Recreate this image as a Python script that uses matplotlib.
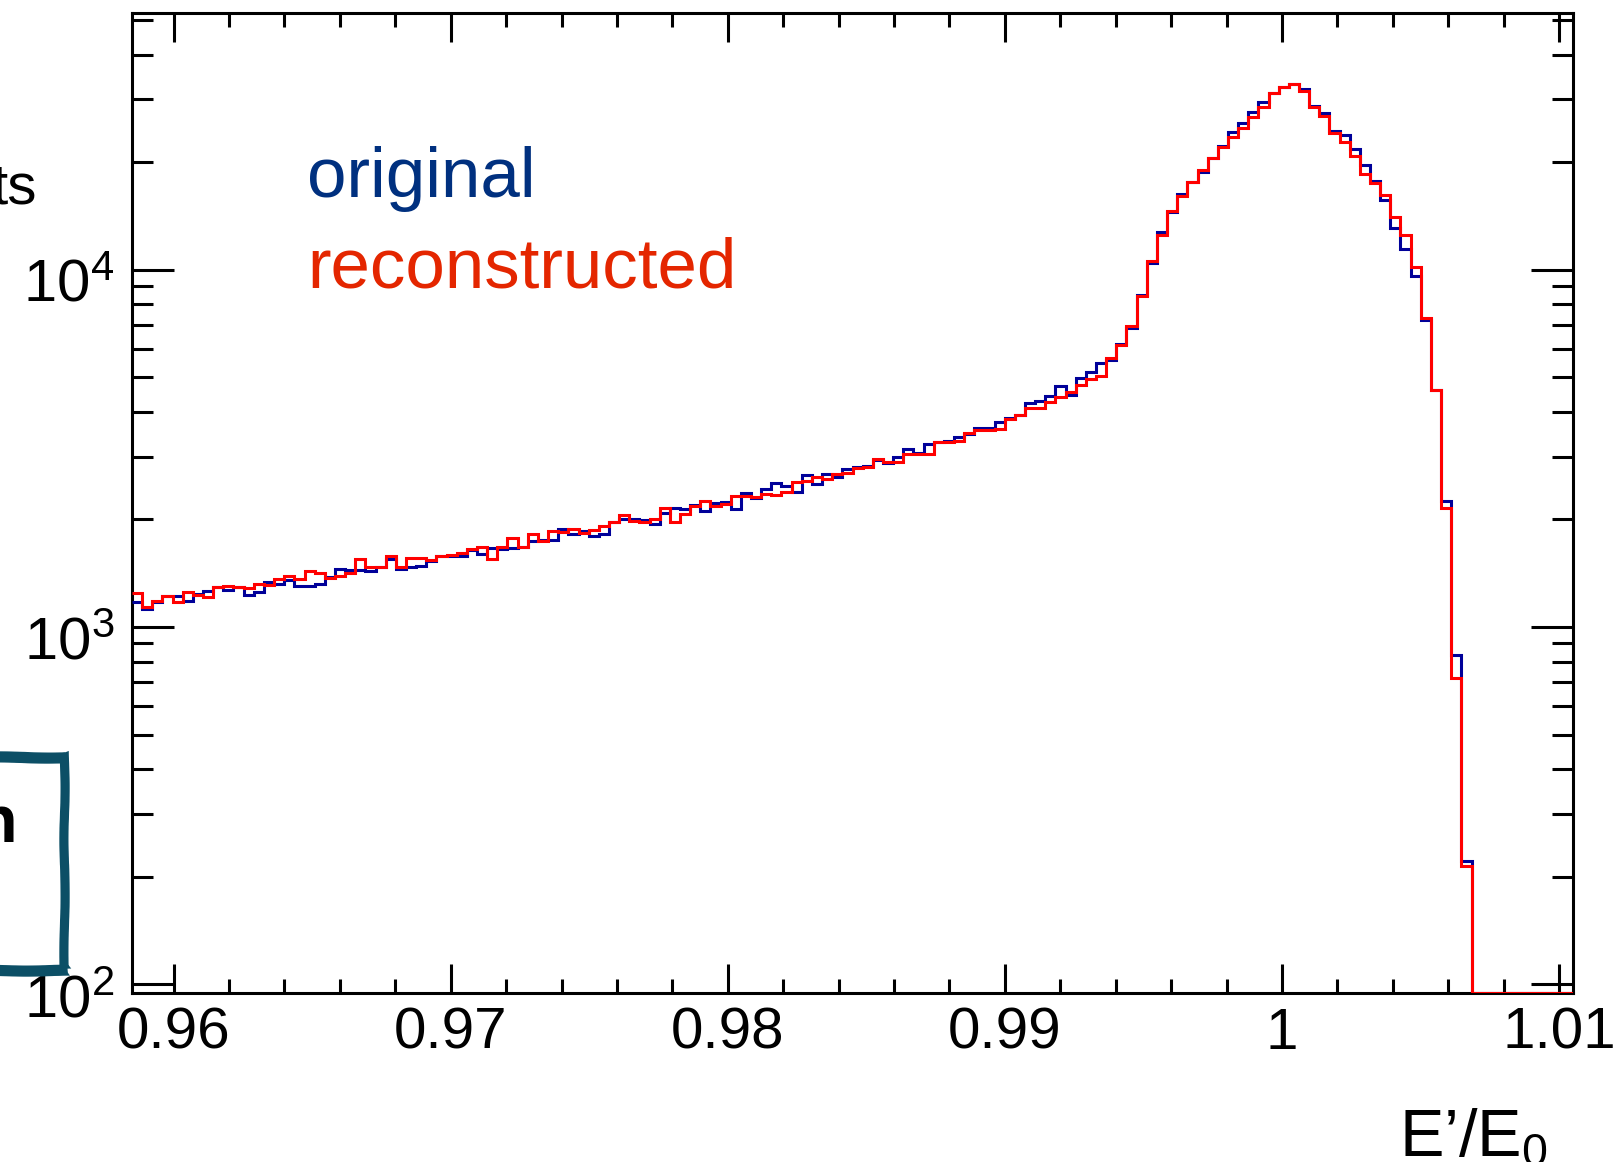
import numpy as np
import matplotlib
matplotlib.use("Agg")
import matplotlib.pyplot as plt
from matplotlib.ticker import MultipleLocator, LogLocator, FuncFormatter, NullFormatter
from matplotlib.patches import Rectangle
from matplotlib.transforms import ScaledTranslation

plt.rcParams["font.family"] = ["Liberation Sans", "DejaVu Sans"]
plt.rcParams["mathtext.fontset"] = "custom"
plt.rcParams["mathtext.rm"] = "Liberation Sans"
plt.rcParams["mathtext.it"] = "Liberation Sans:italic"
plt.rcParams["mathtext.bf"] = "Liberation Sans:bold"

# ── Histogram setup ───────────────────────────────────────────────────────────
X_LO, X_HI = 0.9585, 1.0105
N_BINS     = 142
Y_LO, Y_HI = 94.6, 52300

# bin contents, E'/E0 from X_LO to X_HI
ORIGINAL = [
    1177, 1123, 1172, 1218, 1218, 1185, 1237, 1264, 1291, 1272,
    1291, 1228, 1256, 1333, 1324, 1353, 1305, 1305, 1324, 1385,
    1458, 1446, 1446, 1431, 1471, 1548, 1452, 1468, 1486, 1526,
    1576, 1582, 1576, 1644, 1606, 1662, 1652, 1669, 1677, 1743,
    1754, 1754, 1887, 1819, 1858, 1799, 1819, 1969, 2012, 2003,
    1994, 1948, 2091, 2159, 2136, 2192, 2113, 2230, 2244, 2136,
    2378, 2293, 2429, 2536, 2482, 2388, 2664, 2508, 2687, 2630,
    2775, 2811, 2823, 2934, 2884, 2998, 3142, 3075, 3245, 3294,
    3315, 3402, 3460, 3612, 3612, 3746, 3853, 3920, 4243, 4288,
    4428, 4742, 4457, 4982, 5178, 5487, 5606, 6213, 6872, 8516,
    10438, 12739, 14553, 16300, 17574, 18779, 20507, 22205, 24246, 25795,
    27690, 29398, 31286, 32378, 33078, 31963, 28774, 27390, 24506, 23780,
    21730, 19605, 17760, 15683, 13045, 11420, 9580, 7219, 4621, 2250,
    836, 221, 0, 0, 0, 0, 0, 0, 0, 0,
    0, 0,
]
RECONSTRUCTED = [
    1245, 1135, 1180, 1223, 1177, 1250, 1228, 1215, 1291, 1305,
    1291, 1285, 1319, 1313, 1362, 1391, 1362, 1431, 1413, 1371,
    1391, 1421, 1555, 1477, 1477, 1576, 1474, 1565, 1565, 1542,
    1576, 1589, 1609, 1652, 1680, 1555, 1680, 1773, 1677, 1819,
    1739, 1854, 1850, 1878, 1839, 1866, 1919, 1969, 2055, 1982,
    1974, 2012, 2149, 1969, 2069, 2182, 2254, 2182, 2206, 2328,
    2328, 2313, 2363, 2348, 2388, 2553, 2564, 2630, 2591, 2687,
    2693, 2781, 2805, 2960, 2896, 2903, 3056, 3056, 3056, 3294,
    3300, 3315, 3483, 3551, 3560, 3573, 3827, 3920, 4109, 4090,
    4260, 4399, 4543, 4773, 4950, 5056, 5667, 6173, 6945, 8424,
    10596, 12469, 14616, 16091, 17647, 19023, 20507, 22107, 23480, 24983,
    26694, 28591, 31286, 32378, 33078, 31623, 28591, 26930, 24086, 22829,
    20816, 18540, 17460, 16162, 14003, 12549, 10171, 7328, 4621, 2160,
    720, 214, 0, 0, 0, 0, 0, 0, 0, 0,
    0, 0,
]

W, H = 1618, 1162   # canvas in pixels (dpi 100)


def fx(px):
    return px / W


def fy(py):
    return 1 - py / H


def plot_hist():
    edges = np.linspace(X_LO, X_HI, N_BINS + 1)

    fig = plt.figure(figsize=(W / 100, H / 100), dpi=100)
    ax = fig.add_axes([fx(132), fy(993), fx(1573) - fx(132), fy(13) - fy(993)])

    # empty bins sit on the bottom of the frame, as in ROOT
    for vals, col in ((ORIGINAL, "#000099"), (RECONSTRUCTED, "#ff0000")):
        v = np.asarray(vals, dtype=float)
        v = np.where(v > 0, v, Y_LO)
        ax.stairs(v, edges, color=col, lw=2.2, baseline=None, zorder=3)

    ax.set_yscale("log")
    ax.set_xlim(X_LO, X_HI)
    ax.set_ylim(Y_LO, Y_HI)

    ax.xaxis.set_major_locator(MultipleLocator(0.01))
    ax.xaxis.set_minor_locator(MultipleLocator(0.002))
    ax.xaxis.set_major_formatter(FuncFormatter(lambda v, p: f"{v:g}"))
    ax.yaxis.set_major_locator(LogLocator(base=10, numticks=10))
    ax.yaxis.set_minor_locator(LogLocator(base=10, subs=np.arange(2, 10), numticks=30))
    ax.yaxis.set_minor_formatter(NullFormatter())
    ax.yaxis.set_major_formatter(FuncFormatter(
        lambda v, p: r"$\mathregular{10^{%d}}$" % int(round(np.log10(v)))))

    ax.tick_params(axis="x", which="major", direction="in", top=True,
                   length=21, width=2.2, labelsize=42, pad=10)
    ax.tick_params(axis="x", which="minor", direction="in", top=True,
                   length=10, width=2.2)
    ax.tick_params(axis="y", which="major", direction="in", right=True,
                   length=30, width=2.2, labelsize=43, pad=13)
    ax.tick_params(axis="y", which="minor", direction="in", right=True,
                   length=15, width=2.2)
    for s in ax.spines.values():
        s.set_linewidth(2.2)

    # y labels sit a little below their ticks
    shift = ScaledTranslation(0, -8 / 72, fig.dpi_scale_trans)
    for t in ax.yaxis.get_major_ticks():
        t.label1.set_transform(t.label1.get_transform() + shift)

    # legend text
    fig.text(fx(307), fy(197), "original", color="#00307f",
             fontsize=51, va="baseline")
    fig.text(fx(307), fy(288), "reconstructed", color="#e42600",
             fontsize=51, va="baseline")

    fig.text(fx(1548), fy(1156), "E\u2019/E$_{0}$", ha="right",
             va="baseline", fontsize=48)

    # bits of the slide around the plot
    fig.text(fx(37), fy(204), "ts", ha="right", va="baseline", fontsize=42)
    fig.text(fx(17), fy(842), "n", ha="right", va="baseline",
             fontsize=48, fontweight="bold")
    for dx, dy in ((0, 0), (3, -3), (-2, 3), (2, 4), (-1, -2)):
        box = Rectangle((fx(-60), fy(970 + dy)), fx(64 + dx) - fx(-60),
                        fy(757 + dy) - fy(970 + dy), transform=fig.transFigure,
                        fill=False, ec="#0c4f66", lw=3.0)
        box.set_sketch_params(scale=0.6, length=120, randomness=2)
        fig.add_artist(box)

    fig.savefig("out.png", dpi=100)


if __name__ == "__main__":
    plot_hist()
